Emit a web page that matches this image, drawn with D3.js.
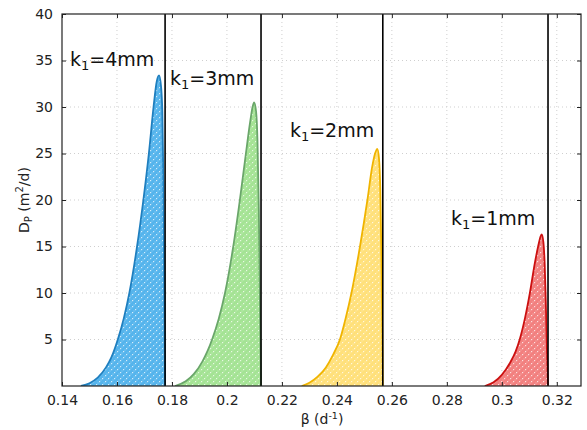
<!DOCTYPE html>
<html>
<head>
<meta charset="utf-8">
<script src="https://cdn.jsdelivr.net/npm/d3@7"></script>
<style>
body{margin:0;background:#fff;}
svg{display:block;font-family:"DejaVu Sans",sans-serif;}
</style>
</head>
<body>
<svg id="c" width="587" height="430"></svg>
<script>
// ---- data ----
const xTicks = [0.14,0.16,0.18,0.2,0.22,0.24,0.26,0.28,0.3,0.32];
const xTickLabels = ["0.14","0.16","0.18","0.2","0.22","0.24","0.26","0.28","0.3","0.32"];
const yTicks = [5,10,15,20,25,30,35,40];
const yTickLabels = ["5","10","15","20","25","30","35","40"];

const seriesNames = ["k1=4mm","k1=3mm","k1=2mm","k1=1mm"];
const labelDigits = ["4","3","2","1"];
const cutoffs = [0.1775,0.2124,0.2567,0.3168];
const labelX = [0.1429,0.1793,0.2229,0.2815];
const labelY = [34.4,32.4,26.8,17.3];

const beta4 = [0.1469,0.1500,0.1530,0.1560,0.1580,0.1603,0.1625,0.1645,0.1673,0.1696,0.1716,0.1733,0.1745,0.1753,0.1760,0.1765,0.1769,0.1772,0.1775];
const dp4   = [0,     0.3,   0.9,   2.0,   3.1,   5.0,   7.3,   10.0,  15.0,  20.0,  25.0,  30.0,  32.8,  33.4,  32.3,  29.5,  22.0,  11.0,  0];
const beta3 = [0.1811,0.1850,0.1880,0.1910,0.1930,0.1946,0.1970,0.1993,0.2023,0.2047,0.2069,0.2085,0.2094,0.2099,0.2106,0.2111,0.2116,0.2120,0.2124];
const dp3   = [0,     0.5,   1.3,   2.6,   3.8,   5.0,   7.2,   10.0,  15.0,  20.0,  25.0,  28.5,  30.1,  30.5,  29.5,  26.5,  19.0,  9.0,   0];
const beta2 = [0.2272,0.2300,0.2330,0.2360,0.2385,0.2411,0.2432,0.2453,0.2484,0.2511,0.2528,0.2540,0.2547,0.2553,0.2558,0.2562,0.2565,0.2567];
const dp2   = [0,     0.35,  1.0,   2.0,   3.3,   5.0,   7.3,   10.0,  15.0,  20.0,  23.5,  25.1,  25.5,  24.5,  21.0,  14.0,  6.0,   0];
const beta1 = [0.2938,0.2970,0.3000,0.3030,0.3050,0.3065,0.3085,0.3102,0.3120,0.3132,0.3140,0.3145,0.3151,0.3156,0.3160,0.3164,0.3168];
const dp1   = [0,     0.4,   1.2,   2.5,   3.7,   5.0,   7.4,   10.0,  13.2,  15.0,  16.0,  16.3,  15.5,  13.0,  9.0,   4.0,   0];

const lineColors = ["#1f7fbf","#6aa66a","#f0b400","#cc1010"];
const fillColors = ["#55b4ec","#a4e394","#ffe07a","#f2807f"];

// ---- chart ----
const svg = d3.select("#c");
const W = 587, H = 430;
const m = {l:62, r:6, t:14, b:44};
const pw = W - m.l - m.r, ph = H - m.t - m.b;

const x = d3.scaleLinear().domain([0.14, 0.3288]).range([m.l, m.l + pw]);
const y = d3.scaleLinear().domain([0, 40]).range([m.t + ph, m.t]);

const defs = svg.append("defs");
defs.append("clipPath").attr("id","clip").append("rect")
  .attr("x",m.l).attr("y",m.t).attr("width",pw).attr("height",ph);

fillColors.forEach((c,i)=>{
  const p = defs.append("pattern").attr("id","pat"+i).attr("patternUnits","userSpaceOnUse")
    .attr("width",6).attr("height",6);
  p.append("rect").attr("width",6).attr("height",6).attr("fill",c);
  p.append("rect").attr("x",0).attr("y",0).attr("width",1.2).attr("height",1.2).attr("fill","#fff").attr("opacity",0.75);
  p.append("rect").attr("x",3).attr("y",3).attr("width",1.2).attr("height",1.2).attr("fill","#fff").attr("opacity",0.75);
  p.append("rect").attr("x",1.5).attr("y",4.5).attr("width",1).attr("height",1).attr("fill","#fff").attr("opacity",0.4);
  p.append("rect").attr("x",4.5).attr("y",1.5).attr("width",1).attr("height",1).attr("fill","#fff").attr("opacity",0.4);
});

// grid
const grid = svg.append("g");
grid.selectAll("line.gx").data(xTicks.slice(1)).enter().append("line")
  .attr("x1",d=>x(d)).attr("x2",d=>x(d)).attr("y1",m.t).attr("y2",m.t+ph)
  .attr("stroke","#cfcfcf").attr("stroke-width",1).attr("stroke-dasharray","1,3");
grid.selectAll("line.gy").data(yTicks.slice(0,-1)).enter().append("line")
  .attr("y1",d=>y(d)).attr("y2",d=>y(d)).attr("x1",m.l).attr("x2",m.l+pw)
  .attr("stroke","#cfcfcf").attr("stroke-width",1).attr("stroke-dasharray","1,3");

const allBeta = [beta4,beta3,beta2,beta1];
const allDp = [dp4,dp3,dp2,dp1];

const plot = svg.append("g").attr("clip-path","url(#clip)");
const area = d3.area().x(d=>x(d[0])).y0(y(0)).y1(d=>y(d[1])).curve(d3.curveMonotoneX);
const line = d3.line().x(d=>x(d[0])).y(d=>y(d[1])).curve(d3.curveMonotoneX);

allBeta.forEach((b,i)=>{
  const pts = b.map((v,j)=>[v, allDp[i][j]]);
  plot.append("path").attr("d",area(pts)).attr("fill","url(#pat"+i+")");
  plot.append("path").attr("d",line(pts)).attr("fill","none")
    .attr("stroke",lineColors[i]).attr("stroke-width",1.8).attr("stroke-linejoin","round");
});

// cutoff lines
plot.selectAll("line.cut").data(cutoffs).enter().append("line")
  .attr("x1",d=>x(d)).attr("x2",d=>x(d)).attr("y1",m.t).attr("y2",m.t+ph)
  .attr("stroke","#000").attr("stroke-width",1.6);

// axes (ticks inside)
const axB = d3.axisBottom(x).tickValues(xTicks).tickSize(-4).tickFormat((d,i)=>xTickLabels[i]).tickPadding(9);
const axT = d3.axisTop(x).tickValues(xTicks).tickSize(-4).tickFormat("");
const axL = d3.axisLeft(y).tickValues(yTicks).tickSize(-4).tickFormat((d,i)=>yTickLabels[i]).tickPadding(9);
const axR = d3.axisRight(y).tickValues(yTicks).tickSize(-4).tickFormat("");

function style(g){
  g.select(".domain").remove();
  g.selectAll(".tick line").attr("stroke","#222").attr("stroke-width",1);
  g.selectAll(".tick text").attr("font-size",14).attr("fill","#222").attr("font-family","DejaVu Sans");
}
svg.append("g").attr("transform",`translate(0,${m.t+ph})`).call(axB).call(style);
svg.append("g").attr("transform",`translate(0,${m.t})`).call(axT).call(style);
svg.append("g").attr("transform",`translate(${m.l},0)`).call(axL).call(style);
svg.append("g").attr("transform",`translate(${m.l+pw},0)`).call(axR).call(style);

svg.append("rect").attr("x",m.l).attr("y",m.t).attr("width",pw).attr("height",ph)
  .attr("fill","none").attr("stroke","#222").attr("stroke-width",1.2);

// series labels
seriesNames.forEach((n,i)=>{
  const t = svg.append("text").attr("x",x(labelX[i])).attr("y",y(labelY[i]))
    .attr("font-size",19).attr("fill","#111");
  t.append("tspan").text("k");
  t.append("tspan").attr("font-size",13).attr("dy",4).text("1");
  t.append("tspan").attr("dy",-4).text("="+labelDigits[i]+"mm");
});

// axis labels
const xl = svg.append("text").attr("x",322).attr("y",424).attr("text-anchor","middle")
  .attr("font-size",14).attr("fill","#222");
xl.append("tspan").text("β (d");
xl.append("tspan").attr("font-size",9.5).attr("dy",-5).text("-1");
xl.append("tspan").attr("dy",5).text(")");

const yl = svg.append("text").attr("transform","translate(29,200) rotate(-90)")
  .attr("text-anchor","middle").attr("font-size",14).attr("fill","#222");
yl.append("tspan").text("D");
yl.append("tspan").attr("font-size",10).attr("dy",3).text("P");
yl.append("tspan").attr("dy",-3).text(" (m");
yl.append("tspan").attr("font-size",10).attr("dy",-6).text("2");
yl.append("tspan").attr("dy",6).text("/d)");
</script>
</body>
</html>
